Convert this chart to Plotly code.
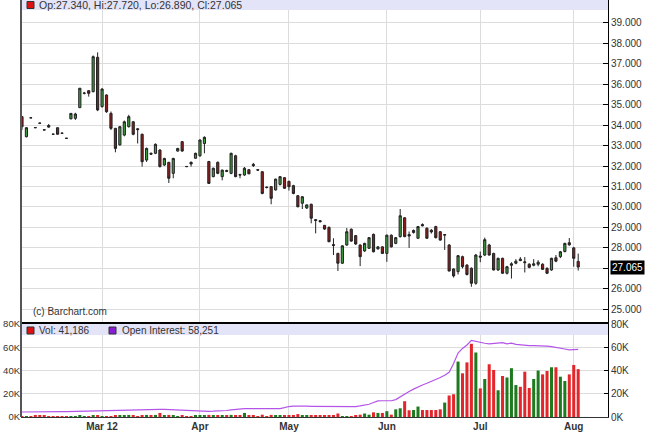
import plotly.graph_objects as go
import pandas as pd

W, H = 645, 434

holidays = ["2012-02-20", "2012-04-06", "2012-05-28", "2012-07-04"]
dates = [d.strftime("%Y-%m-%d") for d in pd.bdate_range("2012-02-03", "2012-08-02")
         if d.strftime("%Y-%m-%d") not in holidays]

opens = [34.41, 33.43, 34.36, 33.88, 34.10, 33.77, 33.98, 33.56, 33.87, 33.61,
         33.36, 34.30, 34.33, 34.85, 35.55, 35.68, 35.63, 37.31, 34.90, 35.47,
         34.57, 33.84, 33.03, 33.51, 33.92, 34.16, 33.82, 33.55, 32.29, 32.62,
         32.62, 32.78, 32.05, 32.18, 31.64, 32.73, 33.19, 31.98, 32.18, 32.38,
         32.50, 33.10, 32.22, 31.48, 32.18, 31.48, 31.78, 31.64, 32.50, 31.58,
         31.56, 31.82, 32.08, 31.82, 31.72, 30.97, 30.99, 30.83, 31.10, 31.43,
         31.25, 31.04, 30.55, 30.18, 29.95, 30.13, 29.38, 29.33, 29.10, 29.00,
         28.16, 27.73, 27.25, 28.14, 28.91, 28.60, 28.14, 27.85, 27.98, 28.66,
         27.95, 28.05, 27.73, 28.62, 28.22, 28.55, 29.47, 28.65, 28.75, 28.47,
         29.14, 28.96, 28.86, 29.04, 28.79, 28.62, 28.14, 26.97, 26.84, 27.57,
         27.16, 27.00, 26.27, 27.60, 27.65, 28.14, 27.73, 26.92, 27.49, 26.76,
         27.15, 27.25, 27.45, 27.32, 27.20, 27.15, 27.20, 27.20, 27.00, 26.92,
         27.52, 27.57, 27.82, 28.25, 28.00, 27.34]
highs = [34.45, 33.90, 34.37, 33.88, 34.10, 33.77, 34.05, 33.56, 33.88, 33.61,
         33.36, 34.57, 34.60, 35.80, 35.62, 35.70, 37.40, 37.55, 35.80, 35.50,
         34.66, 33.86, 33.95, 34.22, 34.50, 34.20, 33.86, 33.58, 32.90, 32.66,
         33.10, 32.82, 32.40, 32.20, 32.40, 32.88, 33.22, 32.00, 32.22, 32.65,
         33.30, 33.45, 32.25, 31.92, 32.22, 31.82, 31.82, 32.65, 32.55, 31.62,
         31.95, 31.85, 32.15, 31.84, 31.75, 31.00, 31.02, 31.38, 31.50, 31.46,
         31.28, 31.08, 30.58, 30.52, 30.12, 30.16, 29.40, 29.36, 29.12, 29.05,
         28.47, 27.76, 28.12, 28.97, 28.95, 28.63, 28.17, 28.25, 28.52, 28.70,
         28.08, 28.08, 28.65, 28.66, 28.53, 29.90, 29.50, 28.80, 28.90, 29.07,
         29.20, 29.00, 28.92, 29.08, 28.82, 28.68, 28.18, 27.00, 27.65, 27.62,
         27.20, 27.05, 27.70, 27.82, 28.50, 28.20, 27.76, 27.52, 27.52, 27.12,
         27.30, 27.45, 27.55, 27.55, 27.25, 27.45, 27.40, 27.25, 27.05, 27.52,
         27.65, 27.85, 28.25, 28.48, 28.05, 27.72]
lows = [33.76, 33.40, 34.35, 33.86, 34.08, 33.75, 33.87, 33.54, 33.54, 33.59,
        33.34, 34.30, 34.25, 34.85, 35.50, 35.39, 35.60, 34.68, 34.85, 34.60,
        33.76, 32.67, 33.00, 33.45, 33.88, 33.50, 33.10, 31.97, 32.20, 32.55,
        32.58, 31.93, 32.00, 31.17, 31.40, 32.70, 32.70, 31.95, 31.97, 32.35,
        32.45, 32.62, 31.12, 31.45, 31.60, 31.30, 31.70, 31.60, 31.45, 31.40,
        31.52, 31.60, 31.95, 31.76, 30.62, 30.90, 30.13, 30.80, 31.05, 30.88,
        30.80, 30.62, 29.98, 29.90, 29.90, 29.20, 28.71, 29.25, 28.88, 28.28,
        27.65, 26.87, 27.22, 28.10, 28.30, 28.15, 27.11, 27.80, 27.95, 27.78,
        27.92, 27.70, 27.32, 28.02, 28.18, 28.50, 28.52, 28.00, 28.70, 28.44,
        29.05, 28.44, 28.70, 28.46, 28.35, 27.90, 26.85, 26.55, 26.70, 27.00,
        26.65, 26.10, 26.20, 27.30, 27.60, 27.62, 26.90, 26.88, 26.73, 26.70,
        26.50, 27.20, 27.35, 26.80, 27.00, 27.10, 27.10, 26.92, 26.72, 26.88,
        27.30, 27.50, 27.78, 28.10, 27.08, 26.89]
closes = [33.92, 33.87, 34.35, 33.87, 34.09, 33.76, 33.90, 33.55, 33.55, 33.60,
          33.35, 34.57, 34.54, 35.80, 35.56, 35.55, 37.34, 34.74, 35.76, 34.65,
          33.84, 32.86, 33.92, 34.16, 34.41, 33.55, 33.78, 32.21, 32.86, 32.58,
          33.06, 31.97, 32.37, 31.40, 32.37, 32.86, 32.73, 31.97, 32.10, 32.62,
          33.27, 33.40, 31.15, 31.89, 31.64, 31.80, 31.74, 32.62, 31.48, 31.56,
          31.89, 31.62, 32.02, 31.80, 30.66, 30.95, 30.42, 31.36, 31.48, 30.91,
          30.99, 30.66, 30.01, 30.50, 30.10, 29.45, 29.34, 29.28, 28.92, 28.30,
          28.12, 27.25, 28.10, 28.79, 28.33, 28.19, 27.57, 28.22, 28.50, 27.81,
          28.05, 27.73, 28.62, 28.05, 28.50, 29.57, 28.55, 28.58, 28.85, 29.04,
          29.08, 28.47, 28.78, 28.50, 28.38, 28.65, 26.87, 26.63, 27.62, 27.08,
          26.70, 26.27, 27.65, 27.55, 28.40, 27.65, 26.92, 27.49, 26.76, 27.08,
          27.22, 27.35, 27.38, 27.28, 27.05, 27.22, 27.30, 26.95, 26.76, 27.49,
          27.35, 27.81, 28.22, 28.15, 27.49, 27.065]

volume_k = [0.5, 0.8, 0.2, 1.5, 1.5, 1.2, 0.5, 0.3, 0.6, 0.2,
            0.2, 0.5, 0.4, 1.0, 0.6, 0.8, 1.2, 1.0, 0.8, 0.5,
            0.7, 1.0, 1.5, 1.2, 1.8, 1.5, 0.8, 1.6, 1.8, 1.2,
            1.8, 3.5, 1.2, 1.8, 1.0, 0.6, 1.0, 0.3, 0.6, 1.0,
            1.5, 1.6, 1.8, 1.3, 1.5, 1.2, 1.0, 1.8, 1.6, 1.0,
            3.5, 1.2, 1.0, 0.8, 2.0, 0.8, 1.8, 1.2, 1.0, 1.2,
            1.5, 1.5, 2.5, 1.5, 1.0, 1.5, 1.2, 1.0, 1.0, 1.3,
            1.0, 3.0, 0.5, 0.5, 0.4, 1.5, 2.0, 3.0, 2.0, 4.0,
            3.5, 3.5, 5.0, 2.0, 6.6, 7.5, 13.6, 5.8, 6.0, 9.0,
            6.0, 6.0, 6.0, 6.0, 6.6, 12.4, 18.5, 19.6, 47.7, 37.6,
            47.0, 63.0, 55.5, 24.6, 32.7, 45.4, 40.5, 23.0, 35.3, 34.0,
            42.0, 27.5, 26.0, 39.0, 25.0, 32.7, 40.0, 36.7, 39.6, 42.8,
            42.8, 34.7, 31.0, 36.7, 44.8, 41.186]

open_interest_k = [4.3, 4.3, 4.2, 4.1, 4.0, 4.0, 4.1, 4.3, 4.4, 4.6,
                   4.7, 4.8, 5.0, 5.1, 5.3, 5.4, 5.6, 5.7, 5.8, 5.8,
                   5.9, 5.9, 6.0, 6.0, 6.1, 6.2, 6.2, 6.3, 6.4, 6.5,
                   6.5, 6.6, 6.5, 6.3, 6.1, 5.9, 5.7, 5.5, 5.2, 5.0,
                   4.9, 4.9, 4.9, 5.0, 5.1, 5.2, 5.6, 6.2, 6.7, 7.0,
                   7.2, 7.2, 7.2, 7.2, 7.2, 7.3, 7.2, 7.2, 7.2, 8.0,
                   9.0, 9.3, 9.5, 9.4, 9.3, 9.2, 9.2, 9.1, 9.1, 9.2,
                   9.0, 8.9, 8.8, 8.7, 8.7, 8.9, 9.5, 10.0, 11.0, 12.5,
                   13.9, 14.0, 14.0, 14.0, 15.0, 17.5, 20.0, 22.0, 24.0, 26.0,
                   27.5, 29.0, 30.5, 32.0, 34.0, 36.0, 38.5, 46.0, 55.0, 59.0,
                   62.0, 66.0, 65.0, 64.0, 63.5, 63.0, 63.5, 64.0, 64.0, 63.0,
                   63.5, 62.5, 62.0, 62.0, 61.5, 61.5, 61.5, 61.0, 61.0, 60.5,
                   60.0, 59.5, 58.5, 57.8, 58.0, 58.251]

month_ticks = ["2012-03-01", "2012-04-02", "2012-05-01", "2012-06-01", "2012-07-02", "2012-08-01"]
month_labels = ["Mar 12", "Apr", "May", "Jun", "Jul", "Aug"]
price_ticks = list(range(25, 40))
vol_ticks = [0, 20, 40, 60, 80]
vol_tick_labels = ["0K", "20K", "40K", "60K", "80K"]

FONT = "Liberation Sans, Arial, sans-serif"
GRID = "#DCDCDC"
BAND = "#E4E4F8"

def px(x):
    return x / W

def py(y):
    return 1 - y / H

vol_colors = ["#1E7A1E" if c >= o else "#E3262B" for o, c in zip(opens, closes)]

fig = go.Figure()
fig.add_trace(go.Candlestick(
    x=dates, open=opens, high=highs, low=lows, close=closes,
    increasing=dict(fillcolor="#3E9A3E", line=dict(color="#222222", width=1)),
    decreasing=dict(fillcolor="#8E1C1C", line=dict(color="#222222", width=1)),
    whiskerwidth=0, xaxis="x", yaxis="y", showlegend=False, hoverinfo="skip"))
fig.add_trace(go.Bar(
    x=dates, y=volume_k, marker=dict(color=vol_colors, line=dict(width=0)),
    xaxis="x", yaxis="y2", showlegend=False))
fig.add_trace(go.Scatter(
    x=dates, y=open_interest_k, mode="lines", line=dict(color="#B455E8", width=1.2),
    xaxis="x", yaxis="y2", showlegend=False))
fig.add_trace(go.Scatter(x=[dates[0]], y=[None], xaxis="x", yaxis="y3",
                         showlegend=False, hoverinfo="skip"))

fig.update_layout(
    width=W, height=H, margin=dict(l=0, r=0, t=0, b=0),
    paper_bgcolor="white", plot_bgcolor="white",
    font=dict(family=FONT, size=10, color="#333333"),
    bargap=0.32,
    xaxis=dict(domain=[px(21), px(608)], type="category", anchor="y2",
               range=[-0.22, 131.7], tickmode="array", tickvals=month_ticks,
               ticktext=["<b>%s</b>" % t for t in month_labels],
               tickfont=dict(size=10, color="#333333"),
               showgrid=True, gridcolor=GRID, gridwidth=1,
               showline=True, linecolor="#333333", linewidth=1,
               ticks="", rangeslider=dict(visible=False), automargin=False),
    yaxis=dict(domain=[py(323), 1], range=[24.33, 40.11], side="right", anchor="x",
               tickmode="array", tickvals=price_ticks, tickformat=".3f",
               showgrid=True, gridcolor=GRID, zeroline=False,
               ticks="inside", ticklen=5, tickcolor="#000000",
               showline=True, linecolor="#000000", linewidth=1,
               tickfont=dict(size=10, color="#333333"), automargin=False),
    yaxis2=dict(domain=[py(417), py(323)], range=[0, 80.9], side="right", anchor="x",
                tickmode="array", tickvals=vol_ticks, ticktext=vol_tick_labels,
                showgrid=True, gridcolor=GRID, zeroline=False,
                ticks="inside", ticklen=4, tickcolor="#000000",
                showline=True, linecolor="#000000", linewidth=1,
                tickfont=dict(size=10, color="#333333"), automargin=False),
    yaxis3=dict(overlaying="y2", range=[0, 80.9], side="left", anchor="x",
                tickmode="array", tickvals=vol_ticks, ticktext=vol_tick_labels,
                showgrid=False, zeroline=False, ticks="", ticklen=0,
                showline=False,
                tickfont=dict(size=9.5, color="#333333"), automargin=False),
)

shapes = [
    dict(type="rect", xref="paper", yref="paper", x0=px(21), x1=px(608), y0=py(10), y1=1,
         fillcolor=BAND, line=dict(width=0), layer="above"),
    dict(type="rect", xref="paper", yref="paper", x0=px(21), x1=px(608), y0=py(335), y1=py(324),
         fillcolor=BAND, line=dict(width=0), layer="above"),
    dict(type="line", xref="paper", yref="paper", x0=px(21), x1=px(608), y0=py(323), y1=py(323),
         line=dict(color="#000000", width=2), layer="above"),
    dict(type="line", xref="paper", yref="paper", x0=px(21), x1=px(21), y0=py(417), y1=1,
         line=dict(color="#555555", width=2), layer="above"),
    dict(type="rect", xref="paper", yref="paper", x0=px(27), x1=px(34), y0=py(8.5), y1=py(1.5),
         fillcolor="#DD1111", line=dict(color="#333333", width=1), layer="above"),
    dict(type="rect", xref="paper", yref="paper", x0=px(27), x1=px(34), y0=py(334), y1=py(327),
         fillcolor="#DD1111", line=dict(color="#333333", width=1), layer="above"),
    dict(type="rect", xref="paper", yref="paper", x0=px(109), x1=px(116), y0=py(334), y1=py(327),
         fillcolor="#8A1CD6", line=dict(color="#333333", width=1), layer="above"),
]
fig.update_layout(shapes=shapes)

last = len(closes) - 1
annotations = [
    dict(xref="paper", yref="paper", x=px(37), y=py(5), xanchor="left", yanchor="middle",
         text="Op:%.3f, Hi:%.3f, Lo:%.3f, Cl:%.3f" % (opens[last], highs[last], lows[last], closes[last]),
         showarrow=False, font=dict(size=10.5, color="#333333")),
    dict(xref="paper", yref="paper", x=px(31), y=py(311), xanchor="left", yanchor="middle",
         text="(c) Barchart.com", showarrow=False, font=dict(size=10, color="#333333")),
    dict(xref="paper", yref="paper", x=px(37), y=py(330.5), xanchor="left", yanchor="middle",
         text="Vol: {:,}".format(round(volume_k[last] * 1000)), showarrow=False,
         font=dict(size=10, color="#333333")),
    dict(xref="paper", yref="paper", x=px(120), y=py(330.5), xanchor="left", yanchor="middle",
         text="Open Interest: {:,}".format(round(open_interest_k[last] * 1000)), showarrow=False,
         font=dict(size=10, color="#333333")),
    dict(xref="paper", yref="y", x=px(610), y=closes[last], xanchor="left", yanchor="middle",
         text="%.3f" % closes[last], showarrow=False, bgcolor="#000000", borderpad=1,
         font=dict(size=10, color="#FFFFFF")),
]
fig.update_layout(annotations=annotations)

fig.write_html("out.html", config={"displayModeBar": False},
               post_script="document.body.style.margin='0';document.body.style.overflow='hidden';")
